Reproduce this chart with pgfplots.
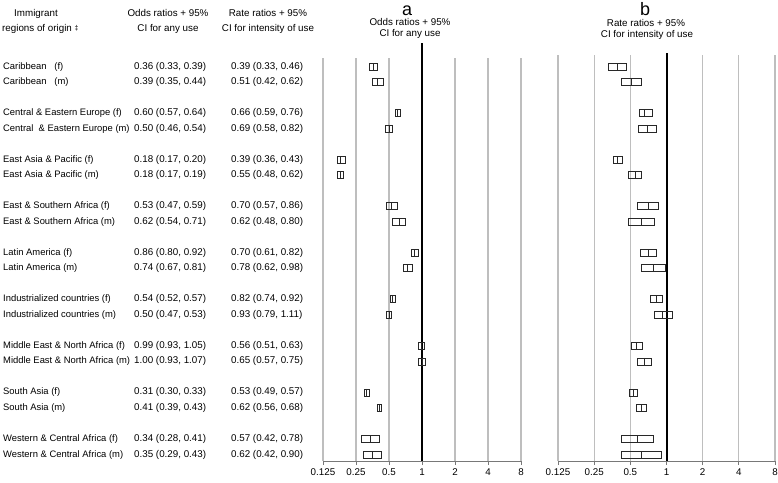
\documentclass[border=0pt]{standalone}
\usepackage{pgfplots}
\pgfplotsset{compat=1.18}
\usepackage{fontspec}
\setmainfont{Liberation Sans}
\definecolor{gridgray}{RGB}{190,190,190}
\definecolor{axgray}{RGB}{120,120,120}
\definecolor{boxcol}{RGB}{40,40,40}
% box: y-position, lower CI, estimate, upper CI
\newcommand{\bx}[4]{%
  \pgfmathsetmacro\ya{#1-3.5}\pgfmathsetmacro\yb{#1+3.5}%
  \addplot[boxcol, line width=0.75pt, mark=none] coordinates {(#2,\ya) (#4,\ya) (#4,\yb) (#2,\yb)} --cycle;
  \addplot[boxcol, line width=0.75pt, mark=none] coordinates {(#3,\ya) (#3,\yb)};}
\newcommand{\lab}{\fontsize{9.4}{11}\selectfont}
\newcommand{\rowtxt}[4]{%
  \node[anchor=west, font=\lab] at (3pt,-#1pt) {#2};
  \node[anchor=west] at (134pt,-#1pt) {#3};
  \node[anchor=west] at (231pt,-#1pt) {#4};}
\begin{document}
\begin{tikzpicture}[every node/.style={font=\fontsize{9.8}{12}\selectfont, inner sep=0pt, text height=7.1pt, text depth=2pt}]
\useasboundingbox (0,0) rectangle (778pt,-482pt);
% ---------- panel a ----------
\begin{axis}[at={(323pt,-461pt)}, anchor=south west, scale only axis,
  width=198pt, height=403pt, ymin=58, ymax=461, y dir=reverse,
  xmode=log, log basis x=2, xmin=0.125, xmax=8,
  axis x line*=bottom, axis y line=none,
  xtick={0.125,0.25,0.5,1,2,4,8}, xticklabels={0.125,0.25,0.5,1,2,4,8}, ytick=\empty,
  xmajorgrids, major grid style={gridgray, line width=1.1pt},
  tick style={axgray, line width=0.8pt}, tick align=outside, major tick length=4pt,
  x axis line style={axgray, line width=0.8pt, -},
  clip=false, ticklabel style={font=\fontsize{9.8}{12}\selectfont},
  xticklabel style={yshift=-3pt}]
\addplot[black, line width=2pt, mark=none] coordinates {(1,43) (1,461)};
\bx{66.5}{0.33}{0.36}{0.39}
\bx{82.1}{0.35}{0.39}{0.44}
\bx{113.1}{0.57}{0.60}{0.64}
\bx{128.7}{0.46}{0.50}{0.54}
\bx{159.6}{0.17}{0.18}{0.20}
\bx{175.2}{0.17}{0.18}{0.19}
\bx{206.2}{0.47}{0.53}{0.59}
\bx{221.8}{0.54}{0.62}{0.71}
\bx{252.7}{0.80}{0.86}{0.92}
\bx{268.3}{0.67}{0.74}{0.81}
\bx{299.3}{0.52}{0.54}{0.57}
\bx{314.9}{0.47}{0.50}{0.53}
\bx{345.8}{0.93}{0.99}{1.05}
\bx{361.4}{0.93}{1.00}{1.07}
\bx{392.4}{0.30}{0.31}{0.33}
\bx{408.0}{0.39}{0.41}{0.43}
\bx{438.9}{0.28}{0.34}{0.41}
\bx{454.5}{0.29}{0.35}{0.43}
\end{axis}
% ---------- panel b ----------
\begin{axis}[at={(558pt,-461pt)}, anchor=south west, scale only axis,
  width=217pt, height=406pt, ymin=55, ymax=461, y dir=reverse,
  xmode=log, log basis x=2, xmin=0.125, xmax=8,
  axis x line*=bottom, axis y line=none,
  xtick={0.125,0.25,0.5,1,2,4,8}, xticklabels={0.125,0.25,0.5,1,2,4,8}, ytick=\empty,
  xmajorgrids, major grid style={gridgray, line width=1.1pt},
  tick style={axgray, line width=0.8pt}, tick align=outside, major tick length=4pt,
  x axis line style={axgray, line width=0.8pt, -},
  clip=false, ticklabel style={font=\fontsize{9.8}{12}\selectfont},
  xticklabel style={yshift=-3pt}]
\addplot[black, line width=2pt, mark=none] coordinates {(1,53) (1,461)};
\bx{66.5}{0.33}{0.39}{0.46}
\bx{82.1}{0.42}{0.51}{0.62}
\bx{113.1}{0.59}{0.66}{0.76}
\bx{128.7}{0.58}{0.69}{0.82}
\bx{159.6}{0.36}{0.39}{0.43}
\bx{175.2}{0.48}{0.55}{0.62}
\bx{206.2}{0.57}{0.70}{0.86}
\bx{221.8}{0.48}{0.62}{0.80}
\bx{252.7}{0.61}{0.70}{0.82}
\bx{268.3}{0.62}{0.78}{0.98}
\bx{299.3}{0.74}{0.82}{0.92}
\bx{314.9}{0.79}{0.93}{1.11}
\bx{345.8}{0.51}{0.56}{0.63}
\bx{361.4}{0.57}{0.65}{0.75}
\bx{392.4}{0.49}{0.53}{0.57}
\bx{408.0}{0.56}{0.62}{0.68}
\bx{438.9}{0.42}{0.57}{0.78}
\bx{454.5}{0.42}{0.62}{0.90}
\end{axis}
% ---------- panel titles ----------
\node[font=\fontsize{18}{20}\selectfont, text height=0pt, text depth=0pt, anchor=base] at (407pt,-15.5pt) {a};
\node at (410pt,-23pt) {Odds ratios + 95\%};
\node at (410pt,-34pt) {CI for any use};
\node[font=\fontsize{18}{20}\selectfont, text height=0pt, text depth=0pt, anchor=base] at (645pt,-15.5pt) {b};
\node at (646pt,-24pt) {Rate ratios + 95\%};
\node at (647pt,-35pt) {CI for intensity of use};
% ---------- table header ----------
\node at (36pt,-14pt) {Immigrant};
\node[anchor=west] at (2pt,-29pt) {regions of origin \raisebox{1pt}{\fontsize{7}{8}\selectfont ‡}};
\node at (168pt,-14pt) {Odds ratios + 95\%};
\node at (168pt,-29pt) {CI for any use};
\node at (268pt,-14pt) {Rate ratios + 95\%};
\node at (268pt,-29pt) {CI for intensity of use};
% ---------- table rows ----------
\rowtxt{66.5}{Caribbean\ \ \ (f)}{0.36 (0.33, 0.39)}{0.39 (0.33, 0.46)}
\rowtxt{82.1}{Caribbean\ \ \ (m)}{0.39 (0.35, 0.44)}{0.51 (0.42, 0.62)}
\rowtxt{113.1}{Central \& Eastern Europe (f)}{0.60 (0.57, 0.64)}{0.66 (0.59, 0.76)}
\rowtxt{128.7}{Central\ \ \& Eastern Europe (m)}{0.50 (0.46, 0.54)}{0.69 (0.58, 0.82)}
\rowtxt{159.6}{East Asia \& Pacific (f)}{0.18 (0.17, 0.20)}{0.39 (0.36, 0.43)}
\rowtxt{175.2}{East Asia \& Pacific (m)}{0.18 (0.17, 0.19)}{0.55 (0.48, 0.62)}
\rowtxt{206.2}{East \& Southern Africa (f)}{0.53 (0.47, 0.59)}{0.70 (0.57, 0.86)}
\rowtxt{221.8}{East \& Southern Africa (m)}{0.62 (0.54, 0.71)}{0.62 (0.48, 0.80)}
\rowtxt{252.7}{Latin America (f)}{0.86 (0.80, 0.92)}{0.70 (0.61, 0.82)}
\rowtxt{268.3}{Latin America (m)}{0.74 (0.67, 0.81)}{0.78 (0.62, 0.98)}
\rowtxt{299.3}{Industrialized countries (f)}{0.54 (0.52, 0.57)}{0.82 (0.74, 0.92)}
\rowtxt{314.9}{Industrialized countries (m)}{0.50 (0.47, 0.53)}{0.93 (0.79, 1.11)}
\rowtxt{345.8}{Middle East \& North Africa (f)}{0.99 (0.93, 1.05)}{0.56 (0.51, 0.63)}
\rowtxt{361.4}{Middle East \& North Africa (m)}{1.00 (0.93, 1.07)}{0.65 (0.57, 0.75)}
\rowtxt{392.4}{South Asia (f)}{0.31 (0.30, 0.33)}{0.53 (0.49, 0.57)}
\rowtxt{408.0}{South Asia (m)}{0.41 (0.39, 0.43)}{0.62 (0.56, 0.68)}
\rowtxt{438.9}{Western \& Central Africa (f)}{0.34 (0.28, 0.41)}{0.57 (0.42, 0.78)}
\rowtxt{454.5}{Western \& Central Africa (m)}{0.35 (0.29, 0.43)}{0.62 (0.42, 0.90)}
\end{tikzpicture}
\end{document}
